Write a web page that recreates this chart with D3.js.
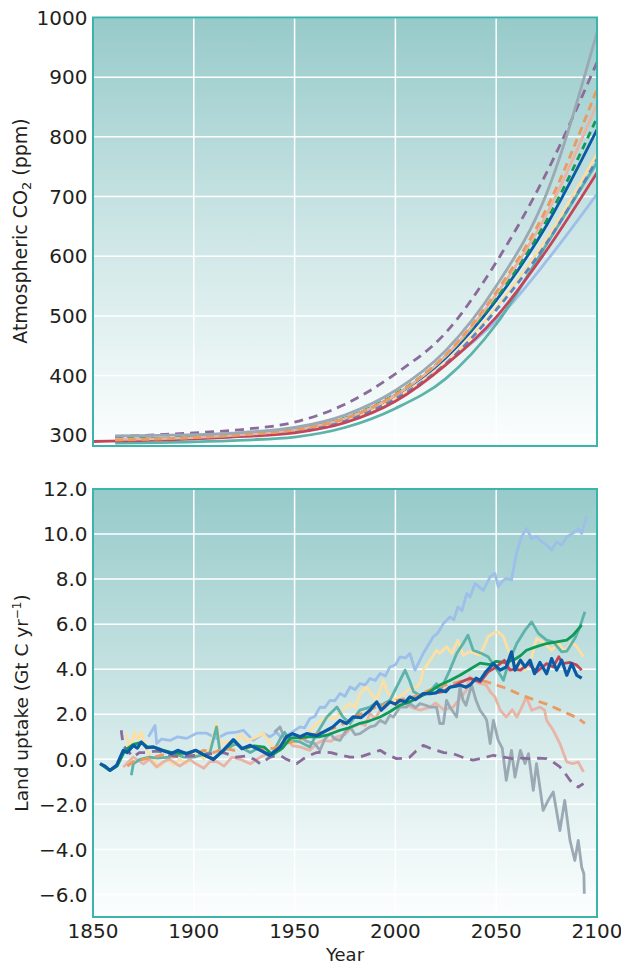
<!DOCTYPE html>
<html>
<head>
<meta charset="utf-8">
<script src="https://cdn.jsdelivr.net/npm/d3@7"></script>
<style>
  body { margin: 0; background: #fff; }
  svg text { font-family: "DejaVu Sans", sans-serif; fill: #231f20; }
</style>
</head>
<body>
<svg id="chart"></svg>
<script>
// sizes
var width = 621, height = 965;
var plotLeft = 93, plotRight = 597;
var topPanel = {top: 17.5, bottom: 446};
var botPanel = {top: 489, bottom: 917};

// ---- data ----
var yearTicks = [1850, 1900, 1950, 2000, 2050, 2100];
var co2Ticks = [300, 400, 500, 600, 700, 800, 900, 1000];
var uptakeTicks = [-6, -4, -2, 0, 2, 4, 6, 8, 10, 12];

// atmospheric CO2 (ppm), year / value pairs
var co2LightBlue = [[1861,291],[1900,294],[1925,299],[1950,306],[1975,324],[2000,360],[2025,420],[2050,492],[2075,592],[2100,704]];
var co2Teal = [[1861,287],[1900,289],[1925,292],[1950,297],[1975,313],[2000,345],[2025,395],[2050,486],[2075,620],[2100,757]];
var co2Red = [[1850,289.5],[1900,294],[1925,298],[1950,304],[1975,321],[2000,357],[2025,418],[2050,498],[2075,610],[2100,740]];
var co2Yellow = [[1861,293],[1900,296],[1925,300],[1950,308],[1975,326],[2000,362],[2025,422],[2050,514],[2075,630],[2100,772]];
var co2SteelDash = [[1861,292],[1900,295],[1925,300],[1950,307],[1975,325],[2000,361],[2025,420],[2050,510],[2075,622],[2100,762]];
var co2Blue = [[1861,293],[1900,296],[1925,301],[1950,309],[1975,328],[2000,367],[2025,430],[2050,526],[2075,652],[2100,812]];
var co2GreenDash = [[1861,294],[1900,297],[1925,302],[1950,310],[1975,329],[2000,369],[2025,433],[2050,530],[2075,660],[2100,832]];
var co2Pink = [[1861,293],[1900,296],[1925,301],[1950,309],[1975,328],[2000,367],[2025,433],[2050,536],[2075,670],[2100,855]];
var co2OrangeDash = [[1861,292],[1900,296],[1925,301],[1950,309],[1975,328],[2000,368],[2025,435],[2050,540],[2075,680],[2100,880]];
var co2PurpleDash = [[1861,298],[1900,304],[1925,310],[1950,322],[1975,352],[2000,403],[2025,472],[2050,590],[2075,740],[2100,925]];
var co2Gray = [[1861,299],[1900,301],[1925,305],[1950,313],[1975,334],[2000,375],[2025,442],[2050,550],[2075,705],[2100,975]];

// land uptake (Gt C per yr), year / value pairs
var upLightBlue = [[1877.5,1.0],[1880.8,1.5],[1881.6,0.7],[1884,0.9],[1888.2,0.84],[1892,1.0],[1896.5,0.93],[1901.4,1.16],[1906.4,1.16],[1911.4,0.92],[1916.3,1.16],[1921.3,1.21],[1924.6,1.29],[1929.5,0.84],[1934.5,1.14],[1937.8,1.0],[1941,1.2],[1944,0.9],[1947.7,1.14],[1952.7,1.44],[1955,1.4],[1957.6,1.81],[1960,1.9],[1962.6,2.32],[1965,2.3],[1967.6,2.62],[1970,2.6],[1972.5,2.92],[1975,2.8],[1977.5,3.21],[1980,3.1],[1982.4,3.36],[1985,3.3],[1987.4,3.59],[1990,3.5],[1992.4,3.81],[1995,3.7],[1997.3,4.1],[2000,4.2],[2002.3,4.55],[2005,4.5],[2007.2,4.7],[2009.7,3.96],[2013.8,4.7],[2018.8,5.44],[2021,5.6],[2023.8,6.03],[2027,6.32],[2029,6.2],[2031,6.77],[2033,6.6],[2035.4,7.36],[2037,7.2],[2039.5,7.8],[2041,7.7],[2043.6,7.5],[2047,8.1],[2049.4,8.25],[2051,7.66],[2053,7.9],[2055,8.03],[2057.6,7.96],[2060,9.14],[2062.6,9.88],[2065,10.25],[2067.6,9.8],[2070,9.9],[2071.7,9.73],[2075,9.51],[2077.5,9.29],[2080,9.66],[2082.5,9.51],[2085,9.88],[2088,10.03],[2090.7,10.25],[2092.4,10.03],[2094.8,10.77]];
var upYellow = [[1866.7,1.14],[1868,0.4],[1870.7,1.2],[1872.4,0.87],[1874,1.2],[1876.6,0.4],[1880,-0.04],[1883,-0.34],[1886.6,0],[1890,-0.25],[1893,0],[1896.5,-0.2],[1899,0.1],[1902,0.3],[1905,0.0],[1908,0.5],[1911.3,1.59],[1913,0.7],[1918,0.8],[1920,0.6],[1923,1.1],[1926,0.8],[1931.2,1.0],[1934.5,1.14],[1938,0.7],[1941,0.4],[1943,0.92],[1946,1.0],[1950,0.7],[1954.3,1.0],[1958,1.3],[1961,1.59],[1966,1.88],[1970,1.8],[1974,2.2],[1977.5,2.47],[1980,2.3],[1982.4,2.92],[1985.7,3.21],[1988,2.9],[1990.7,2.62],[1994,3.51],[1996,3.0],[1999,2.62],[2004,2.92],[2007,3.1],[2010.5,3.21],[2012.2,3.36],[2013.8,3.96],[2017,4.35],[2020.4,4.84],[2022,4.7],[2025.4,5.0],[2028,4.7],[2031,5.29],[2033.6,4.62],[2037,4.77],[2042,4.62],[2046,5.44],[2048.6,5.59],[2051,5.66],[2053.6,5.44],[2056,4.84],[2060.2,4.25],[2064.3,3.96],[2067.6,4.55],[2070,5.36],[2073.3,5.21],[2077.5,4.84],[2081,5.14],[2084,4.77],[2087.4,5.21],[2090,5.0],[2093.3,4.55]];
var upPink = [[1865,-0.34],[1870,0.1],[1875,-0.2],[1878,0.0],[1881.6,-0.34],[1885,-0.1],[1888,0],[1893,-0.3],[1898,0],[1901,-0.2],[1905,-0.4],[1908,-0.1],[1911.4,-0.1],[1915,-0.3],[1919,0.1],[1923,0],[1928,-0.2],[1933,0.1],[1938,0.3],[1943,0.4],[1946,0.9],[1949,0.6],[1952.7,0.55],[1957.6,0.4],[1961,0.7],[1964,0.84],[1968,0.8],[1970.8,1.0],[1975,1.1],[1978,1.4],[1982.4,1.59],[1985,1.5],[1987.4,2.03],[1990,1.8],[1992.4,2.18],[1995,2.3],[1997.3,2.62],[2000,2.4],[2004,2.6],[2008,2.3],[2012.2,2.18],[2017.2,2.32],[2020,2.5],[2024,2.2],[2028.6,2.32],[2032,2.7],[2035.3,3.07],[2037,3.66],[2040.3,3.43],[2042,3.36],[2045,3.3],[2047,3.0],[2049.4,2.77],[2052,2.18],[2055,1.88],[2058,2.2],[2060.2,1.88],[2062,2.18],[2065,2.77],[2067.6,2.18],[2071.7,2.32],[2074,2.18],[2075,1.73],[2078.3,1.29],[2081.6,0.7],[2085,-0.12],[2088,-0.19],[2090.7,-0.12],[2093.3,-0.56]];
var upGray = [[1940,1.2],[1942.8,1.44],[1945,0.9],[1948,1.1],[1952.7,1.0],[1956,0.8],[1960,0.7],[1962.6,0.4],[1965,0.9],[1967.6,1.14],[1970,0.9],[1972.5,0.84],[1975,1.2],[1977.5,1.44],[1980,1.1],[1982.4,1.14],[1985,1.3],[1987.4,1.44],[1990,1.5],[1992.4,1.73],[1995,1.6],[1997.3,1.96],[1999,1.88],[2002.3,2.32],[2005.6,2.32],[2007.2,2.47],[2010,2.3],[2012.2,2.47],[2015,2.4],[2017.2,2.32],[2020.4,2.32],[2022,1.59],[2023.8,1.59],[2025.4,2.62],[2027,2.32],[2030.4,1.88],[2032,3.21],[2033.6,2.62],[2035,2.4],[2037.8,3.3],[2040,2.62],[2042,2.18],[2044.4,1.88],[2045.3,1.73],[2047,0.7],[2048.6,1.73],[2051,0.84],[2053,0.5],[2055,-0.93],[2057.6,0.4],[2059.3,-0.79],[2062,0.4],[2064.3,-0.19],[2066,0.25],[2068.4,-1.38],[2070,-0.19],[2073.3,-2.27],[2075.8,-1.82],[2078.3,-1.45],[2081.6,-3.16],[2084,-1.82],[2086.6,-3.6],[2089,-4.49],[2090.7,-3.6],[2092.4,-4.79],[2093.5,-5.08],[2093.7,-5.97]];
var upTeal = [[1869,-0.71],[1870,-0.2],[1873.3,0.0],[1878,0.1],[1882,0.05],[1888,0.1],[1892,0.2],[1895,0.1],[1900,0.1],[1904,0.2],[1908,0.3],[1911.3,1.44],[1913,0.3],[1917,0.5],[1921,0.7],[1924,0.5],[1928,0.3],[1932,0.5],[1935,0.3],[1938,0.1],[1942.8,0.9],[1945,1.2],[1947.7,0.84],[1952.7,0.77],[1957.6,0.55],[1961,1.14],[1966,1.88],[1971,2.32],[1974,1.88],[1977.5,1.59],[1982.4,2.18],[1987.4,2.32],[1990,2.5],[1993,2.4],[1997.3,2.62],[2002.3,3.51],[2004.8,3.96],[2007,3.5],[2009,3.0],[2012.2,2.84],[2015,2.9],[2018,3.1],[2020.4,3.36],[2022,3.0],[2027,3.96],[2030.4,4.7],[2033.6,5.14],[2036,5.51],[2038.6,4.84],[2042.8,4.7],[2046,4.55],[2050,4.03],[2053.6,3.51],[2056,4.25],[2060.2,5.14],[2064.3,5.73],[2067.6,6.1],[2070.9,5.59],[2075,5.29],[2078.3,5.21],[2082.5,4.77],[2085,4.8],[2089,5.36],[2091.5,5.88],[2094,6.55]];
var upOrangeDash = [[1867,-0.3],[1870,-0.1],[1875,0.0],[1880,0.1],[1885,0.2],[1890,0.1],[1895,0.3],[1900,0.2],[1905,0.4],[1910,0.3],[1915,0.5],[1920,0.4],[1925,0.5],[1930,0.55],[1935,0.45],[1940,0.5],[1945,0.7],[1950,0.8],[1955,0.95],[1960,1.1],[1965,1.25],[1970,1.4],[1975,1.6],[1980,1.9],[1985,2.1],[1990,2.3],[1995,2.45],[2000,2.6],[2005,2.7],[2010,2.8],[2015,3.0],[2020,3.2],[2025,3.3],[2030,3.4],[2035,3.55],[2040,3.55],[2045,3.45],[2050,3.3],[2055,3.15],[2060,2.95],[2065,2.77],[2070,2.6],[2075,2.45],[2080,2.25],[2085,2.05],[2090,1.85],[2094,1.6]];
var upPurpleDash = [[1864,1.29],[1865,0.6],[1867,0.4],[1870,0.1],[1873,0.3],[1876.6,0.3],[1880,0.35],[1883,0.35],[1888,0.2],[1893,0.1],[1898,0.15],[1904,0.2],[1909,0.25],[1914.6,0.3],[1918,0.2],[1921,0.1],[1926,0.15],[1930,0.0],[1933,-0.2],[1937.8,0.1],[1942.8,0.18],[1946,0.0],[1951,-0.19],[1954,0.0],[1957.6,0.18],[1961,0.3],[1964,0.32],[1968,0.3],[1972,0.2],[1977.5,0.1],[1982.4,0.1],[1987.4,0.25],[1992.4,0.4],[1996,0.2],[2000.6,0.03],[2004,0.05],[2007.2,0.1],[2010,0.35],[2013.8,0.62],[2017,0.5],[2020.4,0.4],[2024,0.3],[2028.6,0.25],[2033,0.1],[2038.6,-0.04],[2043,0.05],[2048.6,0.18],[2053,0.1],[2058.5,0.03],[2062,0.05],[2066.8,0.03],[2071,0.05],[2075,0.03],[2078,-0.1],[2081.6,-0.34],[2084,-0.6],[2086.6,-0.93],[2088.5,-1.1],[2090.7,-1.23],[2093.3,-1.08]];
var upGreen = [[1853.5,-0.2],[1858.4,-0.5],[1862,-0.3],[1866,0.42],[1870,0.66],[1874,0.75],[1877,0.55],[1881,0.52],[1885,0.4],[1890,0.28],[1896,0.27],[1901,0.4],[1906,0.15],[1910,0.02],[1915,0.42],[1920,0.85],[1924,0.48],[1930,0.6],[1935,0.54],[1939,0.2],[1944,0.5],[1948,0.95],[1952,0.95],[1957,1.0],[1962,1.0],[1967,1.1],[1972.5,1.29],[1977,1.4],[1982.4,1.6],[1987,1.7],[1992.4,1.88],[1997,2.1],[2002.3,2.4],[2007,2.55],[2012,2.77],[2017,3.0],[2022,3.3],[2027,3.5],[2032,3.73],[2037,4.0],[2042,4.27],[2047,4.2],[2050,4.35],[2054,4.3],[2058.5,4.4],[2062,4.6],[2065,4.84],[2070,5.0],[2075,5.14],[2080,5.21],[2085,5.29],[2088,5.5],[2092.4,5.96]];
var upRed = [[2020,2.95],[2023.8,3.0],[2027,3.2],[2030,3.3],[2033,3.45],[2037,3.6],[2040,3.5],[2042,3.43],[2046,3.88],[2050,4.1],[2054,4.4],[2056.8,3.96],[2059,4.0],[2062,3.96],[2066,4.25],[2070,3.88],[2073,4.1],[2075,4.25],[2078.3,4.1],[2081,4.55],[2083,4.25],[2086.6,4.3],[2090,4.18],[2092.4,3.96]];
var upBlue = [[1853.5,-0.19],[1856,-0.3],[1858.4,-0.49],[1861.7,-0.27],[1865,0.4],[1867,0.3],[1870,0.62],[1872,0.5],[1874,0.77],[1876.6,0.52],[1880,0.55],[1884,0.4],[1889,0.26],[1892,0.4],[1896.5,0.25],[1901,0.4],[1905,0.2],[1909.7,-0.01],[1914.6,0.4],[1919.6,0.87],[1923.8,0.47],[1928,0.62],[1933,0.4],[1937.8,0.18],[1942.8,0.55],[1946,1.0],[1949,1.14],[1952.7,1.0],[1956,1.14],[1961,1.05],[1966,1.29],[1969,1.44],[1972.5,1.73],[1975.8,1.59],[1979,1.88],[1983,1.85],[1987.4,2.18],[1990.7,2.55],[1993,2.18],[1997.3,2.55],[2000,2.45],[2002.3,2.62],[2005,2.55],[2007.2,2.77],[2010,2.65],[2013.8,2.92],[2017.2,2.92],[2020,2.95],[2022,3.07],[2025,3.0],[2027,3.2],[2030,3.25],[2032,3.3],[2035,3.2],[2037,3.3],[2040,3.6],[2042,3.5],[2045,3.9],[2048.6,4.25],[2052,3.96],[2055,4.1],[2057.6,4.77],[2059.3,3.96],[2062,4.4],[2064.3,4.1],[2066.8,4.4],[2069,3.8],[2071.7,4.3],[2075,3.8],[2077.5,4.47],[2080,3.96],[2082.5,4.4],[2085,3.73],[2087.4,4.25],[2090,3.73],[2092.4,3.6]];

// series styles (drawn in this order)
var co2Series = [
  {data: co2LightBlue, color: "#9dbfe9", dash: null},
  {data: co2Teal, color: "#5db3a9", dash: null},
  {data: co2Yellow, color: "#fcdca0", dash: null},
  {data: co2SteelDash, color: "#5b86c4", dash: "7,5"},
  {data: co2Red, color: "#c4455a", dash: null},
  {data: co2Blue, color: "#0b5aa6", dash: null},
  {data: co2GreenDash, color: "#0f9a55", dash: "7,5"},
  {data: co2Pink, color: "#e9b3a5", dash: null},
  {data: co2OrangeDash, color: "#eb9a60", dash: "8,5"},
  {data: co2PurpleDash, color: "#8a6b9a", dash: "9,6"},
  {data: co2Gray, color: "#9aa9b3", dash: null}
];
var upSeries = [
  {data: upLightBlue, color: "#9dbfe9", dash: null, w: 2.8},
  {data: upYellow, color: "#fddfa3", dash: null, w: 2.8},
  {data: upPink, color: "#e9b3a5", dash: null, w: 2.8},
  {data: upGray, color: "#9aa9b3", dash: null, w: 2.8},
  {data: upTeal, color: "#5db3a9", dash: null, w: 2.8},
  {data: upOrangeDash, color: "#eb9a60", dash: "9,6", w: 2.8},
  {data: upPurpleDash, color: "#8a6b9a", dash: "10,7", w: 2.8},
  {data: upGreen, color: "#0f9a55", dash: null, w: 2.8},
  {data: upRed, color: "#c4455a", dash: null, w: 2.8},
  {data: upBlue, color: "#0b5aa6", dash: null, w: 3.2}
];

// ---- drawing ----
var svg = d3.select("#chart").attr("width", width).attr("height", height);

var x = d3.scaleLinear().domain([1850, 2100]).range([plotLeft, plotRight]);
var yCo2 = d3.scaleLinear().domain([282, 1000]).range([topPanel.bottom, topPanel.top]);
var yUp = d3.scaleLinear().domain([-7, 12]).range([botPanel.bottom, botPanel.top]);

var defs = svg.append("defs");
var grad = defs.append("linearGradient").attr("id", "bg")
    .attr("x1", 0).attr("y1", 0).attr("x2", 0).attr("y2", 1);
grad.append("stop").attr("offset", "0%").attr("stop-color", "#97caca");
grad.append("stop").attr("offset", "55%").attr("stop-color", "#d2e8e8");
grad.append("stop").attr("offset", "100%").attr("stop-color", "#fcfefe");

function drawPanel(id, panel, y, yTicks, fmt, series, curve) {
    var g = svg.append("g");
    defs.append("clipPath").attr("id", "clip-" + id)
      .append("rect")
        .attr("x", plotLeft).attr("y", panel.top)
        .attr("width", plotRight - plotLeft).attr("height", panel.bottom - panel.top);

    g.append("rect")
        .attr("x", plotLeft).attr("y", panel.top)
        .attr("width", plotRight - plotLeft).attr("height", panel.bottom - panel.top)
        .attr("fill", "url(#bg)");

    // grid
    g.selectAll(".vgrid").data(yearTicks.slice(1, -1)).enter().append("line")
        .attr("x1", function(d) { return x(d); }).attr("x2", function(d) { return x(d); })
        .attr("y1", panel.top).attr("y2", panel.bottom)
        .attr("stroke", "#fff").attr("stroke-width", 1.5);
    g.selectAll(".hgrid").data(yTicks).enter().append("line")
        .attr("x1", plotLeft).attr("x2", plotRight)
        .attr("y1", function(d) { return y(d); }).attr("y2", function(d) { return y(d); })
        .attr("stroke", "#fff").attr("stroke-width", 1.5);

    // lines
    var line = d3.line()
        .x(function(d) { return x(d[0]); })
        .y(function(d) { return y(d[1]); })
        .curve(curve);
    g.append("g").attr("clip-path", "url(#clip-" + id + ")")
      .selectAll("path").data(series).enter().append("path")
        .attr("d", function(s) { return line(s.data); })
        .attr("fill", "none")
        .attr("stroke", function(s) { return s.color; })
        .attr("stroke-width", function(s) { return s.w || 2.8; })
        .attr("stroke-dasharray", function(s) { return s.dash; })
        .attr("stroke-linejoin", "round");

    // frame
    g.append("rect")
        .attr("x", plotLeft).attr("y", panel.top)
        .attr("width", plotRight - plotLeft).attr("height", panel.bottom - panel.top)
        .attr("fill", "none").attr("stroke", "#3cb4ac").attr("stroke-width", 2);

    // y tick labels
    g.selectAll(".ylab").data(yTicks).enter().append("text")
        .attr("x", 87.5).attr("y", function(d) { return y(d); })
        .attr("dy", "0.36em")
        .attr("text-anchor", "end")
        .attr("font-size", 20)
        .text(fmt);
}

drawPanel("co2", topPanel, yCo2, co2Ticks, d3.format("d"), co2Series, d3.curveMonotoneX);
drawPanel("up", botPanel, yUp, uptakeTicks, d3.format(".1f"), upSeries, d3.curveLinear);

// x tick labels
svg.selectAll(".xlab").data(yearTicks).enter().append("text")
    .attr("x", function(d) { return x(d); })
    .attr("y", 937.5)
    .attr("text-anchor", "middle")
    .attr("font-size", 20)
    .text(function(d) { return d; });

svg.append("text")
    .attr("x", (plotLeft + plotRight) / 2).attr("y", 961)
    .attr("text-anchor", "middle")
    .attr("font-size", 18)
    .text("Year");

// axis titles
var t1 = svg.append("text")
    .attr("transform", "translate(27,231) rotate(-90)")
    .attr("text-anchor", "middle")
    .attr("font-size", 19);
t1.append("tspan").text("Atmospheric CO");
t1.append("tspan").attr("dy", 4).attr("font-size", 13).text("2");
t1.append("tspan").attr("dy", -4).text(" (ppm)");

var t2 = svg.append("text")
    .attr("transform", "translate(28,703) rotate(-90)")
    .attr("text-anchor", "middle")
    .attr("font-size", 18.5);
t2.append("tspan").text("Land uptake (Gt C yr");
t2.append("tspan").attr("dy", -7).attr("font-size", 12).text("\u22121");
t2.append("tspan").attr("dy", 7).text(")");
</script>
</body>
</html>
